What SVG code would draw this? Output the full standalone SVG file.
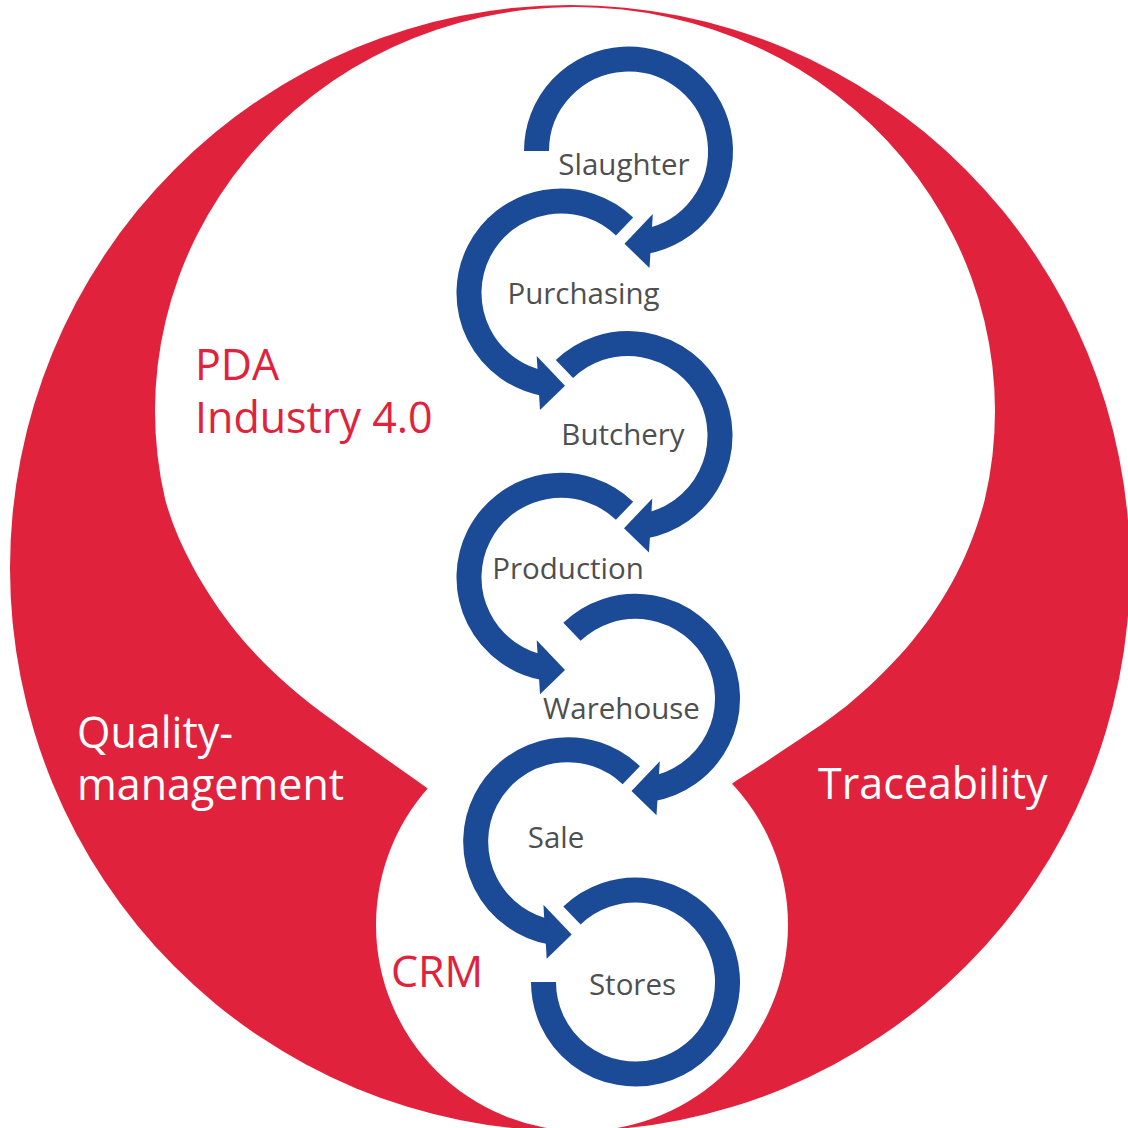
<svg xmlns="http://www.w3.org/2000/svg" width="1128" height="1128" viewBox="0 0 1128 1128">
<style>
.red{fill:#E1223C}
.white{fill:#FFFFFF}
.arc{fill:none;stroke:#1B4A96;stroke-width:25;stroke-linecap:butt}
.head{fill:#1B4A96}
.step{font-family:"Open Sans","Noto Sans",sans-serif;font-size:29.5px;fill:#4F4F4F;text-anchor:middle}
.big{font-family:"Open Sans","Noto Sans",sans-serif;font-size:43px}
.bigred{fill:#E1223C}
.bigwhite{fill:#FFFFFF}
</style>
<rect width="1128" height="1128" fill="#FFFFFF"/>
<g id="background">
<ellipse class="red" cx="570" cy="568" rx="560" ry="563"/>
<path class="white" d="M 984.7 500 C 978.5 523.8 969 549.7 957 573 C 945 596.3 930.8 618.3 913 640 C 895.2 661.7 873.3 683.5 850 703 C 826.7 722.5 792.5 743.7 773 757 C 753.5 770.3 746.3 774.3 733 783 L 582 925 L 427 788 C 401.3 769.7 372.8 749.8 350 733 C 327.2 716.2 308.8 703.7 290 687 C 271.2 670.3 253.2 653 237 633 C 220.8 613 205 589.2 193 567 C 181 544.8 171.6 522.8 165.3 500 A 420 404 0 1 1 984.7 500 Z"/>
<circle class="white" cx="582" cy="925" r="206"/>
</g>
<g id="areas">
<g id="pda"><text class="big bigred"><tspan x="195" y="380">PDA</tspan><tspan x="195" y="433">Industry 4.0</tspan></text></g>
<g id="quality"><text class="big bigwhite"><tspan x="77" y="748">Quality-</tspan><tspan x="77" y="800">management</tspan></text></g>
<g id="traceability"><text class="big bigwhite" x="818" y="799">Traceability</text></g>
<g id="crm"><text class="big bigred" x="391" y="987">CRM</text></g>
</g>
<g id="connectors">
<path class="arc" d="M 536.5 151 A 92 92 0 1 1 644.48 241.6"/>
<polygon class="head" points="652.8,214 624.5,243.7 649.5,268"/>
<path class="arc" d="M 624.56 226.49 A 92 92 0 1 0 545.02 383.6"/>
<polygon class="head" points="536.7,356 565,385.7 540,410"/>
<path class="arc" d="M 564.44 368.99 A 92 92 0 1 1 643.98 526.1"/>
<polygon class="head" points="652.3,498.5 624,528.2 649,552.5"/>
<path class="arc" d="M 624.56 510.79 A 92 92 0 1 0 545.02 667.9"/>
<polygon class="head" points="536.7,640.3 565,670 540,694.3"/>
<path class="arc" d="M 571.94 631.79 A 92 92 0 1 1 651.48 788.9"/>
<polygon class="head" points="659.8,761.3 631.5,791 656.5,815.3"/>
<path class="arc" d="M 631.26 775.19 A 92 92 0 1 0 551.72 932.3"/>
<polygon class="head" points="543.4,904.7 571.7,934.4 546.7,958.7"/>
<path class="arc" d="M 571.94 915.49 A 92 92 0 1 1 543.5 982"/>
</g>
<g id="slaughter"><text class="step" x="624" y="175">Slaughter</text></g>
<g id="purchasing"><text class="step" x="583.5" y="304">Purchasing</text></g>
<g id="butchery"><text class="step" x="623" y="445">Butchery</text></g>
<g id="production"><text class="step" x="568" y="579">Production</text></g>
<g id="warehouse"><text class="step" x="621.5" y="719">Warehouse</text></g>
<g id="sale"><text class="step" x="556" y="848">Sale</text></g>
<g id="stores"><text class="step" x="632.5" y="995">Stores</text></g>
</svg>
